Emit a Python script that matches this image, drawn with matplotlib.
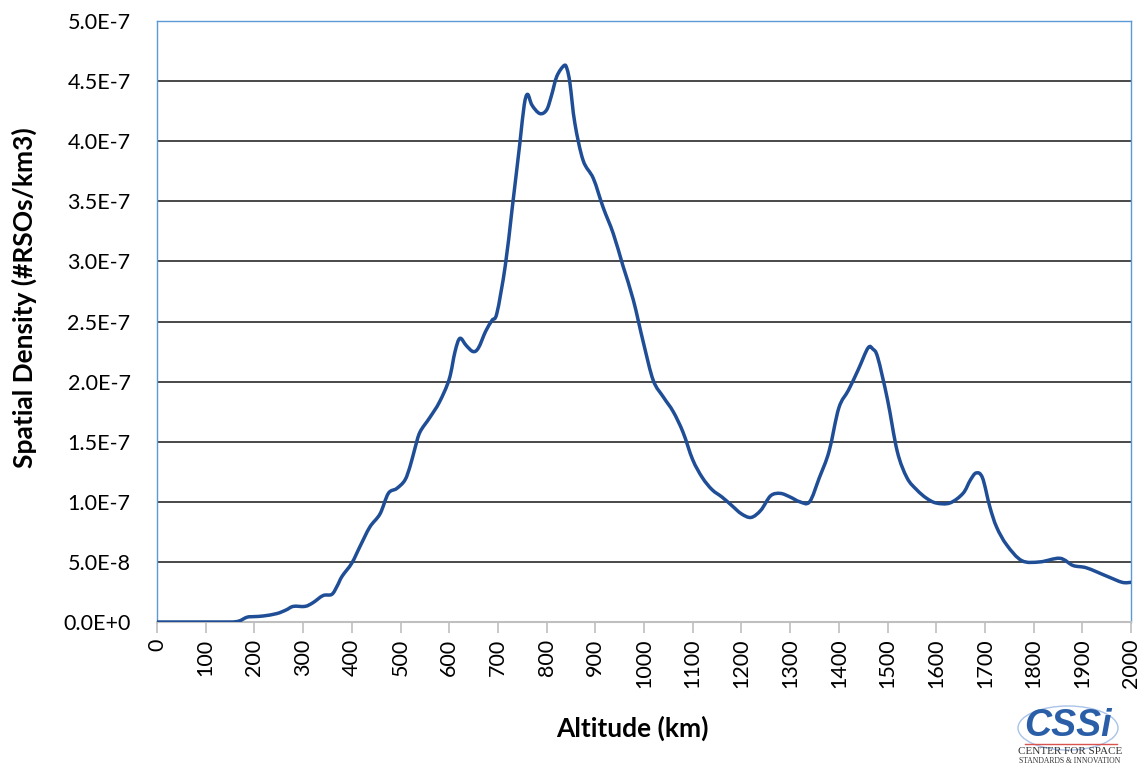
import matplotlib
matplotlib.use("Agg")
import matplotlib.pyplot as plt
from matplotlib.path import Path
from matplotlib.patches import PathPatch, Ellipse

plt.rcParams['font.family'] = ['Lato', 'DejaVu Sans']

# Altitude (km)
altitude = [0, 50, 100, 150, 160, 170, 185, 200, 218, 246, 265, 280, 304, 320, 341, 359,
            370, 380, 400, 417, 437, 458, 475, 492, 509, 520, 530, 540, 560, 580, 600,
            612, 622, 635, 649, 660, 675, 688, 698, 715, 729, 745, 754, 761, 770, 786,
            800, 810, 821, 836, 842, 848, 858, 875, 896, 916, 937, 957, 978, 999, 1019,
            1040, 1060, 1080, 1100, 1120, 1140, 1160, 1180, 1200, 1220, 1240, 1260, 1280,
            1300, 1320, 1340, 1360, 1380, 1400, 1420, 1440, 1460, 1470, 1480, 1500, 1520,
            1540, 1560, 1580, 1600, 1628, 1655, 1670, 1682, 1695, 1710, 1724, 1745, 1776,
            1813, 1854, 1881, 1909, 1951, 1982, 2000]
# Spatial density (#RSOs/km3), in units of 1E-7
density_e7 = [0, 0, 0, 0, 0.002, 0.01, 0.04, 0.045, 0.05, 0.07, 0.10, 0.13, 0.13, 0.16, 0.22, 0.23,
              0.30, 0.38, 0.49, 0.63, 0.79, 0.90, 1.07, 1.11, 1.18, 1.30, 1.45, 1.58, 1.70, 1.83, 2.02,
              2.25, 2.36, 2.30, 2.25, 2.28, 2.42, 2.51, 2.57, 2.96, 3.43, 3.98, 4.30, 4.39, 4.30, 4.23,
              4.26, 4.38, 4.54, 4.63, 4.60, 4.48, 4.15, 3.84, 3.69, 3.45, 3.23, 2.96, 2.68, 2.32, 2.01,
              1.87, 1.75, 1.58, 1.35, 1.20, 1.10, 1.04, 0.97, 0.90, 0.87, 0.93, 1.05, 1.07,
              1.04, 1.00, 1.00, 1.20, 1.42, 1.78, 1.93, 2.10, 2.28, 2.27, 2.20, 1.85, 1.42,
              1.20, 1.10, 1.03, 0.99, 0.99, 1.07, 1.18, 1.24, 1.20, 0.96, 0.79, 0.64, 0.51,
              0.50, 0.53, 0.47, 0.45, 0.38, 0.33, 0.33]
density = [v * 1e-7 for v in density_e7]

x_ticks = list(range(0, 2001, 100))
y_tick_labels = ["0.0E+0", "5.0E-8", "1.0E-7", "1.5E-7", "2.0E-7", "2.5E-7",
                 "3.0E-7", "3.5E-7", "4.0E-7", "4.5E-7", "5.0E-7"]

fig = plt.figure(figsize=(11.46, 7.71), dpi=100)
ax = fig.add_axes([157/1146, 1 - 622/771, (1131-157)/1146, (622-21)/771])

# Smoothed line (like a spreadsheet "smoothed line"): Catmull-Rom -> cubic Bezier through the data
n = len(altitude)
verts = [(altitude[0], density[0])]
codes = [Path.MOVETO]
for i in range(n - 1):
    x0, y0 = altitude[max(i - 1, 0)], density[max(i - 1, 0)]
    x1, y1 = altitude[i], density[i]
    x2, y2 = altitude[i + 1], density[i + 1]
    x3, y3 = altitude[min(i + 2, n - 1)], density[min(i + 2, n - 1)]
    c1 = (x1 + (x2 - x0) / 6.0, y1 + (y2 - y0) / 6.0)
    c2 = (x2 - (x3 - x1) / 6.0, y2 - (y3 - y1) / 6.0)
    verts += [c1, c2, (x2, y2)]
    codes += [Path.CURVE4, Path.CURVE4, Path.CURVE4]
ax.add_patch(PathPatch(Path(verts, codes), facecolor='none', edgecolor='#1f4e96',
                       lw=2.5, joinstyle='round', capstyle='round', zorder=3))

ax.set_xlim(0, 2000)
ax.set_ylim(0, 5e-7)
ax.set_xticks(x_ticks)
ax.set_xticklabels([str(t) for t in x_ticks], rotation=90)
ax.set_yticks([i * 5e-8 for i in range(len(y_tick_labels))])
ax.set_yticklabels(y_tick_labels)

ax.yaxis.grid(True, color='#3a3a3a', lw=1.3)
ax.set_axisbelow(True)

for s in ['left', 'top', 'right']:
    ax.spines[s].set_color('#5b9bd5')
    ax.spines[s].set_linewidth(1.0)
ax.spines['bottom'].set_color('#bfbfbf')
ax.spines['bottom'].set_linewidth(1.5)

ax.tick_params(axis='x', direction='out', length=8, width=1.2, color='#bfbfbf',
               labelsize=15.5, labelcolor='black', pad=4)
ax.tick_params(axis='y', length=0, labelsize=15.5, labelcolor='black', pad=19)

ax.set_xlabel('Altitude (km)', fontsize=19, fontweight='bold')
ax.set_ylabel('Spatial Density (#RSOs/km3)', fontsize=19, fontweight='bold')
ax.xaxis.set_label_coords((632 - 157) / 974, -(716 - 622) / 601)
ax.yaxis.set_label_coords(-(157 - 37) / 974, (622 - 298) / 601)

# CSSI logo approximation
fig.patches.append(Ellipse((1068/1146, 1 - 728/771), 100/1146, 44/771, transform=fig.transFigure,
                           fill=False, edgecolor='#a9c4e8', lw=1.0))
fig.text(1068/1146, 1 - 726/771, 'CSSi', fontsize=27, fontweight='bold', style='italic',
         color='#2a5fa8', ha='center', va='center', family=['Liberation Sans', 'DejaVu Sans'])
fig.add_artist(plt.Line2D([1025/1146, 1117/1146], [1 - 744/771, 1 - 744/771],
                          transform=fig.transFigure, color='#d9534f', lw=1.0))
fig.text(1070/1146, 1 - 751/771, 'CENTER FOR SPACE', fontsize=8, color='#333333',
         ha='center', va='center', family=['Liberation Serif', 'DejaVu Serif'])
fig.text(1070/1146, 1 - 761/771, 'STANDARDS & INNOVATION', fontsize=5.5, color='#333333',
         ha='center', va='center', family=['Liberation Serif', 'DejaVu Serif'])

fig.savefig('out.png', dpi=100)
